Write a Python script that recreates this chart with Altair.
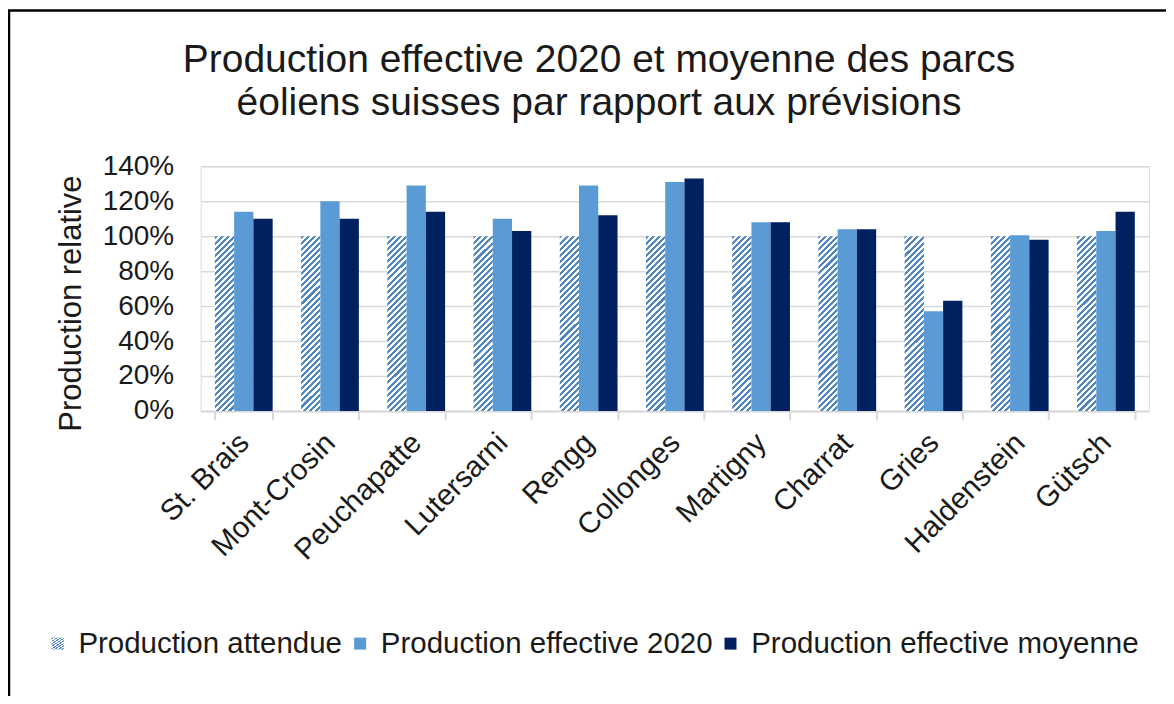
import altair as alt
import pandas as pd

# ---- data ----
parcs = ["St. Brais", "Mont-Crosin", "Peuchapatte", "Lutersarni", "Rengg",
         "Collonges", "Martigny", "Charrat", "Gries", "Haldenstein", "Gütsch"]
prod_attendue = [1.00, 1.00, 1.00, 1.00, 1.00, 1.00, 1.00, 1.00, 1.00, 1.00, 1.00]
prod_2020 = [1.14, 1.20, 1.29, 1.10, 1.29, 1.31, 1.08, 1.04, 0.57, 1.005, 1.03]
prod_moyenne = [1.10, 1.10, 1.14, 1.03, 1.12, 1.33, 1.08, 1.04, 0.63, 0.98, 1.14]
series = ["Production attendue", "Production effective 2020", "Production effective moyenne"]
y_ticks = [0, 0.2, 0.4, 0.6, 0.8, 1.0, 1.2, 1.4]

rows = []
for i, p in enumerate(parcs):
    for s, vals in zip(series, [prod_attendue, prod_2020, prod_moyenne]):
        rows.append({"parc": p, "serie": s, "valeur": vals[i]})
df = pd.DataFrame(rows)

# ---- style ----
FONT = "Liberation Sans"
TXT = "#1a1a1a"
LIGHT = "#5b9bd5"
DARK = "#002060"
STRIPE = "#5087c2"
GRID = "#d9d9d9"

PLOT_W, PLOT_H = 950, 245

# diagonal hatch built as a hard-stop linear gradient (bounding-box units)
bar_w, bar_h = 19.3, 175.5
k = (bar_w + bar_h) / (bar_w ** 2 + bar_h ** 2)
gx2, gy2 = k * bar_w, k * bar_h
n_per = 32
stops = []
for j in range(n_per):
    a = j / n_per
    b = (j + 0.5) / n_per
    c = (j + 1) / n_per
    stops += [(a, STRIPE), (b, STRIPE), (b, "#ffffff"), (c, "#ffffff")]
stop_txt = ",".join("{offset:%.5f,color:'%s'}" % (o, col) for o, col in stops)
hatch_expr = "{gradient:'linear',x1:0,y1:0,x2:%.5f,y2:%.5f,stops:[%s]}" % (gx2, gy2, stop_txt)

color_scale = alt.Scale(domain=series, range=[alt.ExprRef(expr=hatch_expr), LIGHT, DARK])

bars = alt.Chart(df).mark_bar().encode(
    x=alt.X("parc:N", sort=parcs, title=None,
            scale=alt.Scale(paddingInner=0.33, paddingOuter=0.165),
            axis=alt.Axis(labelAngle=-45, labelAlign="right", labelBaseline="middle",
                          labelFontSize=29.5, labelFont=FONT, labelColor=TXT,
                          labelPadding=18, tickBand="extent", tickSize=9,
                          tickColor=GRID, tickWidth=2, domainColor=GRID,
                          domainWidth=2, grid=False)),
    xOffset=alt.XOffset("serie:N", sort=series, scale=alt.Scale(paddingInner=0, paddingOuter=0)),
    y=alt.Y("valeur:Q", title="Production relative",
            scale=alt.Scale(domain=[0, 1.4], nice=False),
            axis=alt.Axis(values=y_ticks, format=".0%", labelFontSize=28,
                          labelFont=FONT, labelColor=TXT, labelPadding=27,
                          domain=False, ticks=False, gridColor=GRID, gridWidth=1.5,
                          titleFont=FONT, titleFontSize=31, titleFontWeight="normal",
                          titleColor=TXT, titlePadding=15, titleY=137)),
    color=alt.Color("serie:N", sort=series, scale=color_scale,
                    legend=alt.Legend(title=None, orient="none", direction="horizontal",
                                      legendX=-158, legendY=463, labelFontSize=29.5,
                                      labelFont=FONT, labelColor=TXT, symbolType="square",
                                      symbolSize=144, symbolStrokeWidth=0, labelOffset=6,
                                      columnPadding=3, labelLimit=0, padding=0)),
)

frame = alt.Chart(alt.Data(values=[{"f": 1}])).mark_rect(
    fill=None, stroke="black", strokeWidth=2.5
).encode(
    x=alt.value(-192), y=alt.value(-156), x2=alt.value(3000), y2=alt.value(3000)
)

chart = alt.layer(bars, frame).properties(
    width=PLOT_W, height=PLOT_H,
    title=alt.TitleParams(
        text=["Production effective 2020 et moyenne des parcs",
              "éoliens suisses par rapport aux prévisions"],
        font=FONT, fontSize=39, fontWeight="normal", color=TXT,
        lineHeight=43, anchor="middle", frame="group", dx=-76, offset=40, dy=154),
    autosize=alt.AutoSizeParams(type="none"),
    padding={"left": 193, "top": 158, "right": 17, "bottom": 285},
).configure_view(stroke=None).configure(background="white")

chart.save("out.html", embed_options={"renderer": "svg", "actions": False})
